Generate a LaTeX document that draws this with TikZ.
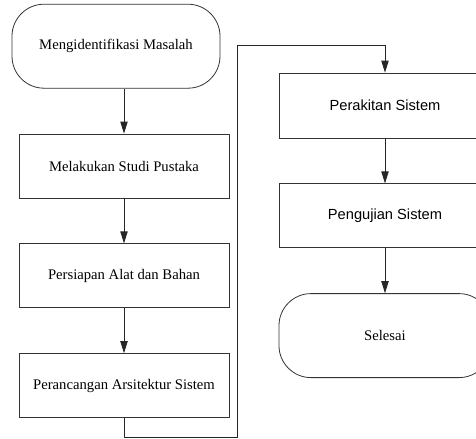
\documentclass[tikz,border=0pt]{standalone}
\usepackage{fontspec}
\setmainfont{Liberation Serif}
\newfontfamily\arialfont{Liberation Sans}
\usetikzlibrary{arrows.meta,positioning}

\tikzset{
  proses/.style={draw=black!80, line width=0.6pt, minimum width=157.5pt, minimum height=48pt,
    inner sep=0.75pt, align=center, font=\fontsize{11}{13}\selectfont},
  terminal/.style={proses, rounded corners=24pt, minimum height=63pt},
  alur/.style={draw=black!85, line width=0.6pt, -{Triangle[length=9pt,width=5.5pt]}},
}

\begin{document}
\begin{tikzpicture}[x=0.75pt,y=0.75pt,yscale=-1,xscale=1,node distance=33.75pt]
\useasboundingbox (0,0) rectangle (476,439);

%Shape: left column
\node [proses] (studi) at (124,166) {Melakukan Studi Pustaka};
\node [terminal, above=of studi, xshift=-6pt, minimum width=156pt] (mulai) {Mengidentifikasi Masalah};
\node [proses, below=of studi] (alat) {Persiapan Alat dan Bahan};
\node [proses, below=of alat] (rancang) {Perancangan Arsitektur Sistem};

%Shape: right column
\node [proses, minimum width=159pt, minimum height=48.75pt, font=\arialfont\fontsize{11}{13}\selectfont] (rakit) at (385,105.5) {Perakitan Sistem};
\node [proses, below=of rakit, minimum width=159pt, font=\arialfont\fontsize{11}{13}\selectfont] (uji) {Pengujian Sistem};
\node [terminal, below=of uji, minimum width=159pt] (selesai) {Selesai};

% turning points of the loop
\coordinate (bawah) at (237,437);
\coordinate (atas) at (385,45);

% Arrows
\draw [alur] (studi.north |- mulai.south) -- (studi.north);
\draw [alur] (studi) -- (alat);
\draw [alur] (alat) -- (rancang);
\draw [alur] (rancang.south) |- (bawah) |- (atas) -- (rakit.north);
\draw [alur] (rakit) -- (uji);
\draw [alur] (uji) -- (selesai);

\end{tikzpicture}
\end{document}
